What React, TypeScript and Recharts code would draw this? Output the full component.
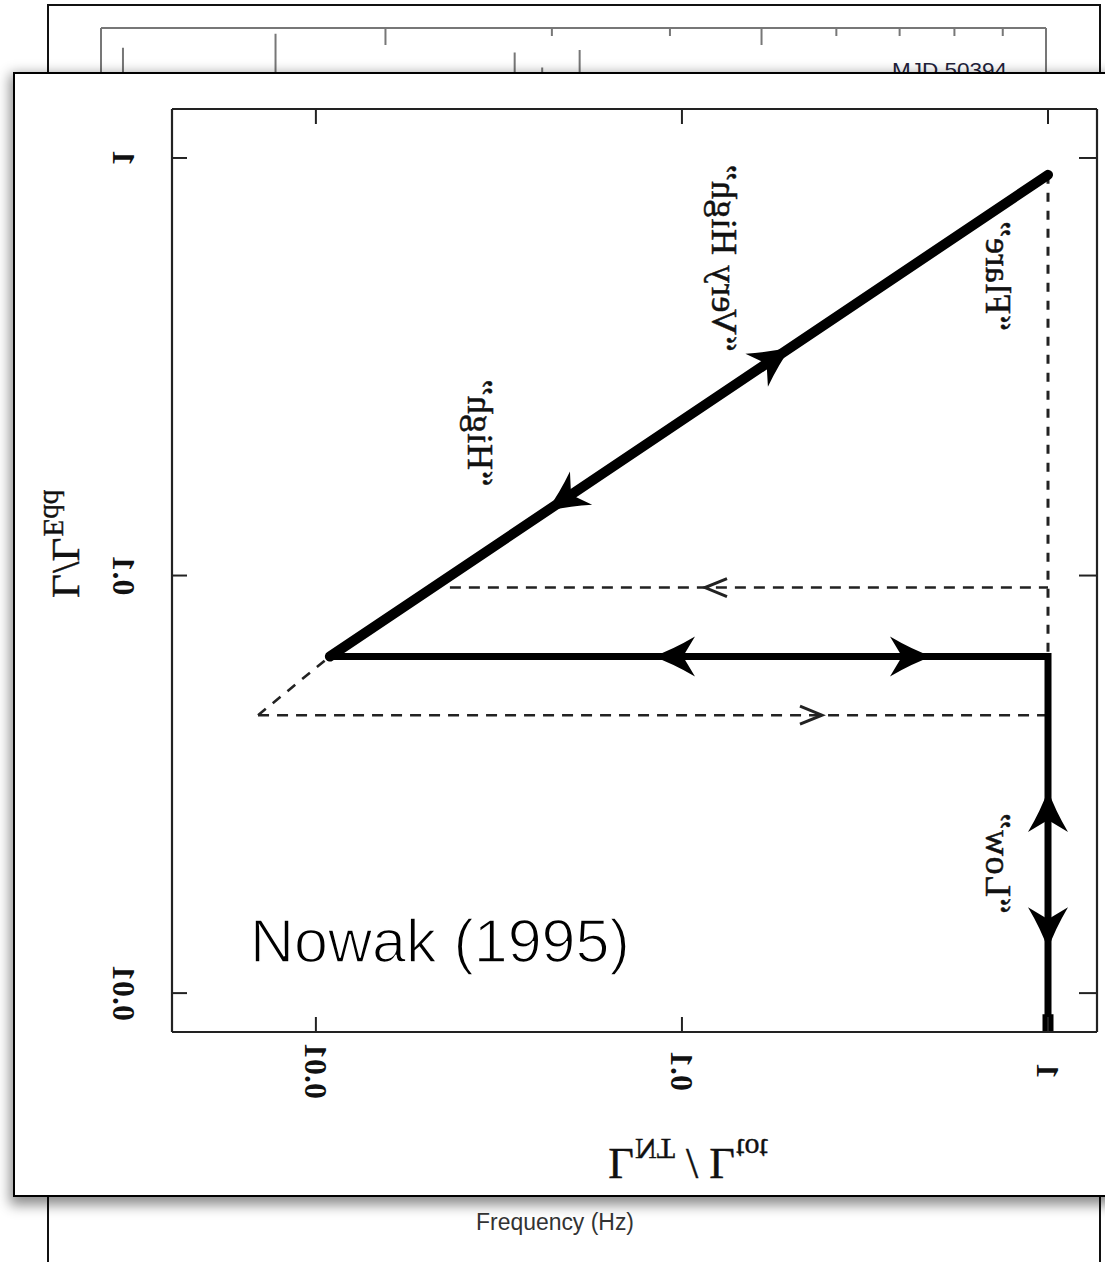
import React from "react";
import { ComposedChart, LineChart, Line, XAxis, YAxis, Scatter, Label } from "recharts";

// ---------- Front figure: Nowak (1995), log-log ----------
const X_TICKS = [0.01, 0.1, 1];
const X_TICK_LABELS = ["0.01", "0.1", "1"];
const Y_TICKS = [0.01, 0.1, 1];
const Y_TICK_LABELS = ["0.01", "0.1", "1"];
const X_DOMAIN: [number, number] = [0.004045, 1.361];
const Y_DOMAIN: [number, number] = [0.00807, 1.31];

const VERY_HIGH_BRANCH = [
  { x: 0.01092, y: 0.064 },
  { x: 1.0, y: 0.911 },
];
const HIGH_LOW_BRANCH = [
  { x: 0.01092, y: 0.064 },
  { x: 1.0, y: 0.064 },
  { x: 1.0, y: 0.00807 },
];
const LOW_FOOT = [
  { x: 1.0, y: 0.0089 },
  { x: 1.0, y: 0.00807 },
];
const FLARE_DASH = [
  { x: 1.0, y: 0.911 },
  { x: 1.0, y: 0.064 },
];
const EXTENSION_DASH = [
  { x: 0.00695, y: 0.0463 },
  { x: 0.01092, y: 0.064 },
];
const UPPER_DASH = [
  { x: 0.02323, y: 0.0936 },
  { x: 1.0, y: 0.0936 },
];
const LOWER_DASH = [
  { x: 0.00695, y: 0.0463 },
  { x: 1.0, y: 0.0463 },
];

// arrow heads: [tail, tip]
const SOLID_ARROWS = [
  [{ x: 0.1585, y: 0.3083 }, { x: 0.197, y: 0.351 }],
  [{ x: 0.0537, y: 0.1632 }, { x: 0.043, y: 0.1433 }],
  [{ x: 0.1, y: 0.064 }, { x: 0.0844, y: 0.064 }],
  [{ x: 0.4, y: 0.064 }, { x: 0.476, y: 0.064 }],
  [{ x: 1.0, y: 0.025 }, { x: 1.0, y: 0.0303 }],
  [{ x: 1.0, y: 0.0155 }, { x: 1.0, y: 0.01288 }],
];
const DASHED_ARROWS = [
  [{ x: 0.14, y: 0.0936 }, { x: 0.1156, y: 0.0936 }],
  [{ x: 0.2, y: 0.0463 }, { x: 0.2413, y: 0.0463 }],
];

const CURVE_LABELS = [
  { x: 0.02602, y: 0.2198, text: "\u201CHigh\u201D" },
  { x: 0.1208, y: 0.5764, text: "\u201CVery High\u201D" },
  { x: 0.6771, y: 0.5221, text: "\u201CFlare\u201D" },
  { x: 0.6771, y: 0.02047, text: "\u201CLow\u201D" },
];

// ---------- Background figure (partly hidden) ----------
const FREQ_DOMAIN: [number, number] = [1, 10];
const FREQ_TICKS = [1, 2, 3, 4, 5, 6, 7, 8, 9, 10];
const FREQ_MAJOR = [1, 2, 5, 10];
const QPO_LINES = [
  { f: 1.055, p: 98.3 },
  { f: 1.53, p: 99.5 },
  { f: 2.74, p: 97.9 },
  { f: 2.93, p: 96.6 },
  { f: 3.21, p: 98.1 },
];

const SERIF = "'Liberation Serif', 'Times New Roman', serif";
const SANS = "'Liberation Sans', Arial, Helvetica, sans-serif";
const FRAME = { stroke: "#222", strokeWidth: 2.2 };
const TRANSPOSE = (x: number, y: number) => `matrix(0,-1,-1,0,${x},${y})`;

function BottomTick(props: any) {
  const { x, y, index } = props;
  return (
    <g>
      <line x1={x} y1={y} x2={x} y2={y - 15} stroke="#222" strokeWidth={2} />
      <text
        transform={TRANSPOSE(x - 11, y + 39)}
        textAnchor="middle"
        fontFamily={SERIF}
        fontSize={32}
        fontWeight="bold"
        fill="#111"
      >
        {X_TICK_LABELS[index]}
      </text>
    </g>
  );
}
function TopTick(props: any) {
  const { x, y } = props;
  return <line x1={x} y1={y} x2={x} y2={y + 15} stroke="#222" strokeWidth={2} />;
}
function LeftTick(props: any) {
  const { x, y, index } = props;
  return (
    <g>
      <line x1={x} y1={y} x2={x + 15} y2={y} stroke="#222" strokeWidth={2} />
      <text
        transform={TRANSPOSE(x - 59, y)}
        textAnchor="middle"
        fontFamily={SERIF}
        fontSize={32}
        fontWeight="bold"
        fill="#111"
      >
        {Y_TICK_LABELS[index]}
      </text>
    </g>
  );
}
function RightTick(props: any) {
  const { x, y } = props;
  return <line x1={x} y1={y} x2={x - 18} y2={y} stroke="#222" strokeWidth={2} />;
}

function LeftTitle(props: any) {
  const vb = props.viewBox || { x: 162, y: 109, width: 10, height: 923 };
  const bx = vb.x + vb.width - 119;
  const by = vb.y + 489;
  return (
    <text transform={TRANSPOSE(bx, by)} textAnchor="start" fontFamily={SERIF} fontSize={41} fill="#111" stroke="#111" strokeWidth={0.4}>
      L/L
      <tspan dy={9} fontSize={29}>
        Edd
      </tspan>
    </text>
  );
}
function BottomTitle(props: any) {
  const vb = props.viewBox || { x: 172, y: 1032, width: 925, height: 10 };
  const cx = vb.x + 516;
  const by = vb.y + 117;
  return (
    <text transform={`matrix(1,0,0,-1,${cx},${by})`} textAnchor="middle" fontFamily={SERIF} fontSize={44} fill="#111" stroke="#111" strokeWidth={0.4}>
      L
      <tspan dy={10} fontSize={30}>
        NT
      </tspan>
      <tspan dy={-10} fontSize={44}>
        {" / L"}
      </tspan>
      <tspan dy={10} fontSize={30}>
        tot
      </tspan>
    </text>
  );
}

function CurveLabel(props: any) {
  const { cx, cy, payload } = props;
  return (
    <text
      transform={TRANSPOSE(cx, cy)}
      textAnchor="middle"
      fontFamily={SERIF}
      fontSize={36}
      letterSpacing={0.6}
      fill="#111"
      stroke="#111"
      strokeWidth={0.5}
    >
      {payload.text}
    </text>
  );
}

function FreqTick(props: any) {
  const { x, y, payload } = props;
  const major = FREQ_MAJOR.includes(payload.value);
  return <line x1={x} y1={y} x2={x} y2={y + (major ? 17 : 8)} stroke="#777" strokeWidth={2} />;
}

function BackChart() {
  return (
    <LineChart width={1105} height={1262} margin={{ top: 18, left: 91, right: 49, bottom: 72 }}>
      <XAxis
        xAxisId="top"
        orientation="top"
        type="number"
        dataKey="f"
        scale="log"
        domain={FREQ_DOMAIN}
        allowDataOverflow
        ticks={FREQ_TICKS}
        interval={0}
        height={10}
        tickSize={0}
        tickMargin={0}
        tickLine={false}
        axisLine={{ stroke: "#777", strokeWidth: 2 }}
        tick={<FreqTick />}
      />
      <YAxis yAxisId="l" type="number" dataKey="p" domain={[0, 100]} width={10} tick={false} tickLine={false} axisLine={{ stroke: "#777", strokeWidth: 2 }} />
      <YAxis yAxisId="r" orientation="right" type="number" dataKey="p" domain={[0, 100]} width={10} tick={false} tickLine={false} axisLine={{ stroke: "#777", strokeWidth: 2 }} />
      {QPO_LINES.map((q, i) => (
        <Line
          key={i}
          xAxisId="top"
          yAxisId="l"
          data={[
            { f: q.f, p: 0 },
            { f: q.f, p: q.p },
          ]}
          dataKey="p"
          type="linear"
          stroke="#777"
          strokeWidth={2}
          dot={false}
          activeDot={false}
          isAnimationActive={false}
        />
      ))}
    </LineChart>
  );
}

function FrontChart() {
  const common = { xAxisId: "b", yAxisId: "l", dataKey: "y", type: "linear" as const, dot: false, activeDot: false, isAnimationActive: false };
  return (
    <ComposedChart width={1120} height={1262} margin={{ top: 99, right: 13, bottom: 220, left: 162 }}>
      <XAxis
        xAxisId="b"
        orientation="bottom"
        type="number"
        dataKey="x"
        scale="log"
        domain={X_DOMAIN}
        allowDataOverflow
        ticks={X_TICKS}
        interval={0}
        height={10}
        tickSize={0}
        tickMargin={0}
        tickLine={false}
        axisLine={FRAME}
        tick={<BottomTick />}
      >
        <Label content={(p: any) => <BottomTitle {...p} />} />
      </XAxis>
      <XAxis
        xAxisId="t"
        orientation="top"
        type="number"
        dataKey="x"
        scale="log"
        domain={X_DOMAIN}
        allowDataOverflow
        ticks={X_TICKS}
        interval={0}
        height={10}
        tickSize={0}
        tickMargin={0}
        tickLine={false}
        axisLine={FRAME}
        tick={<TopTick />}
      />
      <YAxis
        yAxisId="l"
        orientation="left"
        type="number"
        dataKey="y"
        scale="log"
        domain={Y_DOMAIN}
        allowDataOverflow
        ticks={Y_TICKS}
        interval={0}
        width={10}
        tickSize={0}
        tickMargin={0}
        tickLine={false}
        axisLine={FRAME}
        tick={<LeftTick />}
      >
        <Label content={(p: any) => <LeftTitle {...p} />} />
      </YAxis>
      <YAxis
        yAxisId="r"
        orientation="right"
        type="number"
        dataKey="y"
        scale="log"
        domain={Y_DOMAIN}
        allowDataOverflow
        ticks={Y_TICKS}
        interval={0}
        width={10}
        tickSize={0}
        tickMargin={0}
        tickLine={false}
        axisLine={FRAME}
        tick={<RightTick />}
      />

      <Line {...common} data={FLARE_DASH} stroke="#222" strokeWidth={3} strokeDasharray="9 9" />
      <Line {...common} data={UPPER_DASH} stroke="#222" strokeWidth={2.6} strokeDasharray="11 8" />
      <Line {...common} data={LOWER_DASH} stroke="#222" strokeWidth={2.6} strokeDasharray="11 8" />
      <Line {...common} data={EXTENSION_DASH} stroke="#222" strokeWidth={2.6} strokeDasharray="10 9" />
      <Line {...common} data={HIGH_LOW_BRANCH} stroke="#000" strokeWidth={7} strokeLinejoin="miter" />
      <Line {...common} data={LOW_FOOT} stroke="#000" strokeWidth={11} />
      <Line {...common} data={VERY_HIGH_BRANCH} stroke="#000" strokeWidth={10} strokeLinecap="round" />
      {SOLID_ARROWS.map((seg, i) => (
        <Line key={"sa" + i} {...common} data={seg} stroke="none" strokeWidth={1} markerEnd="url(#headThick)" />
      ))}
      {DASHED_ARROWS.map((seg, i) => (
        <Line key={"da" + i} {...common} data={seg} stroke="none" strokeWidth={1} markerEnd="url(#headThin)" />
      ))}
      <Scatter xAxisId="b" yAxisId="l" data={CURVE_LABELS} dataKey="y" shape={(p: any) => <CurveLabel {...p} />} isAnimationActive={false} />
    </ComposedChart>
  );
}

export default function App() {
  return (
    <div style={{ position: "absolute", left: 0, top: 0, width: 1105, height: 1262, overflow: "hidden", background: "#fff" }}>
      <svg width={0} height={0} style={{ position: "absolute" }}>
        <defs>
          <marker id="headThick" markerUnits="userSpaceOnUse" markerWidth={52} markerHeight={46} viewBox="-48 -23 52 46" refX={0} refY={0} orient="auto">
            <path d="M2,0 Q-18,-7 -40,-20 L-28,0 L-40,20 Q-18,7 2,0 Z" fill="#000" />
          </marker>
          <marker id="headThin" markerUnits="userSpaceOnUse" markerWidth={32} markerHeight={26} viewBox="-28 -13 32 26" refX={0} refY={0} orient="auto">
            <path d="M-22,-9 L0,0 L-22,9" fill="none" stroke="#222" strokeWidth={3} />
          </marker>
        </defs>
      </svg>

      {/* back slide panel */}
      <div style={{ position: "absolute", left: 47, top: 4, width: 1054, height: 1300, border: "2.5px solid #111", boxSizing: "border-box", background: "#fff" }} />
      <div style={{ position: "absolute", left: 0, top: 0 }}>
        <BackChart />
      </div>
      <svg width={1105} height={1262} style={{ position: "absolute", left: 0, top: 0 }}>
        <text x={892} y={77} fontFamily={SANS} fontSize={21} fill="#22223a" textLength={115} lengthAdjust="spacingAndGlyphs">
          MJD 50394
        </text>
        <text x={555} y={1230} textAnchor="middle" fontFamily={SANS} fontSize={23} fill="#333" textLength={158} lengthAdjust="spacingAndGlyphs">
          Frequency (Hz)
        </text>
      </svg>

      {/* front slide panel */}
      <div
        style={{
          position: "absolute",
          left: 13,
          top: 72,
          width: 1130,
          height: 1125,
          border: "2px solid #000",
          boxSizing: "border-box",
          background: "#fff",
          boxShadow: "0 5px 12px 3px rgba(0,0,0,0.45)",
        }}
      />
      <div style={{ position: "absolute", left: 0, top: 0 }}>
        <FrontChart />
      </div>
      <svg width={1105} height={1262} style={{ position: "absolute", left: 0, top: 0, pointerEvents: "none" }}>
        <text x={250} y={962} fontFamily={SANS} fontSize={61} fill="#000" stroke="#fff" strokeWidth={1.6}>
          Nowak (1995)
        </text>
      </svg>
    </div>
  );
}
